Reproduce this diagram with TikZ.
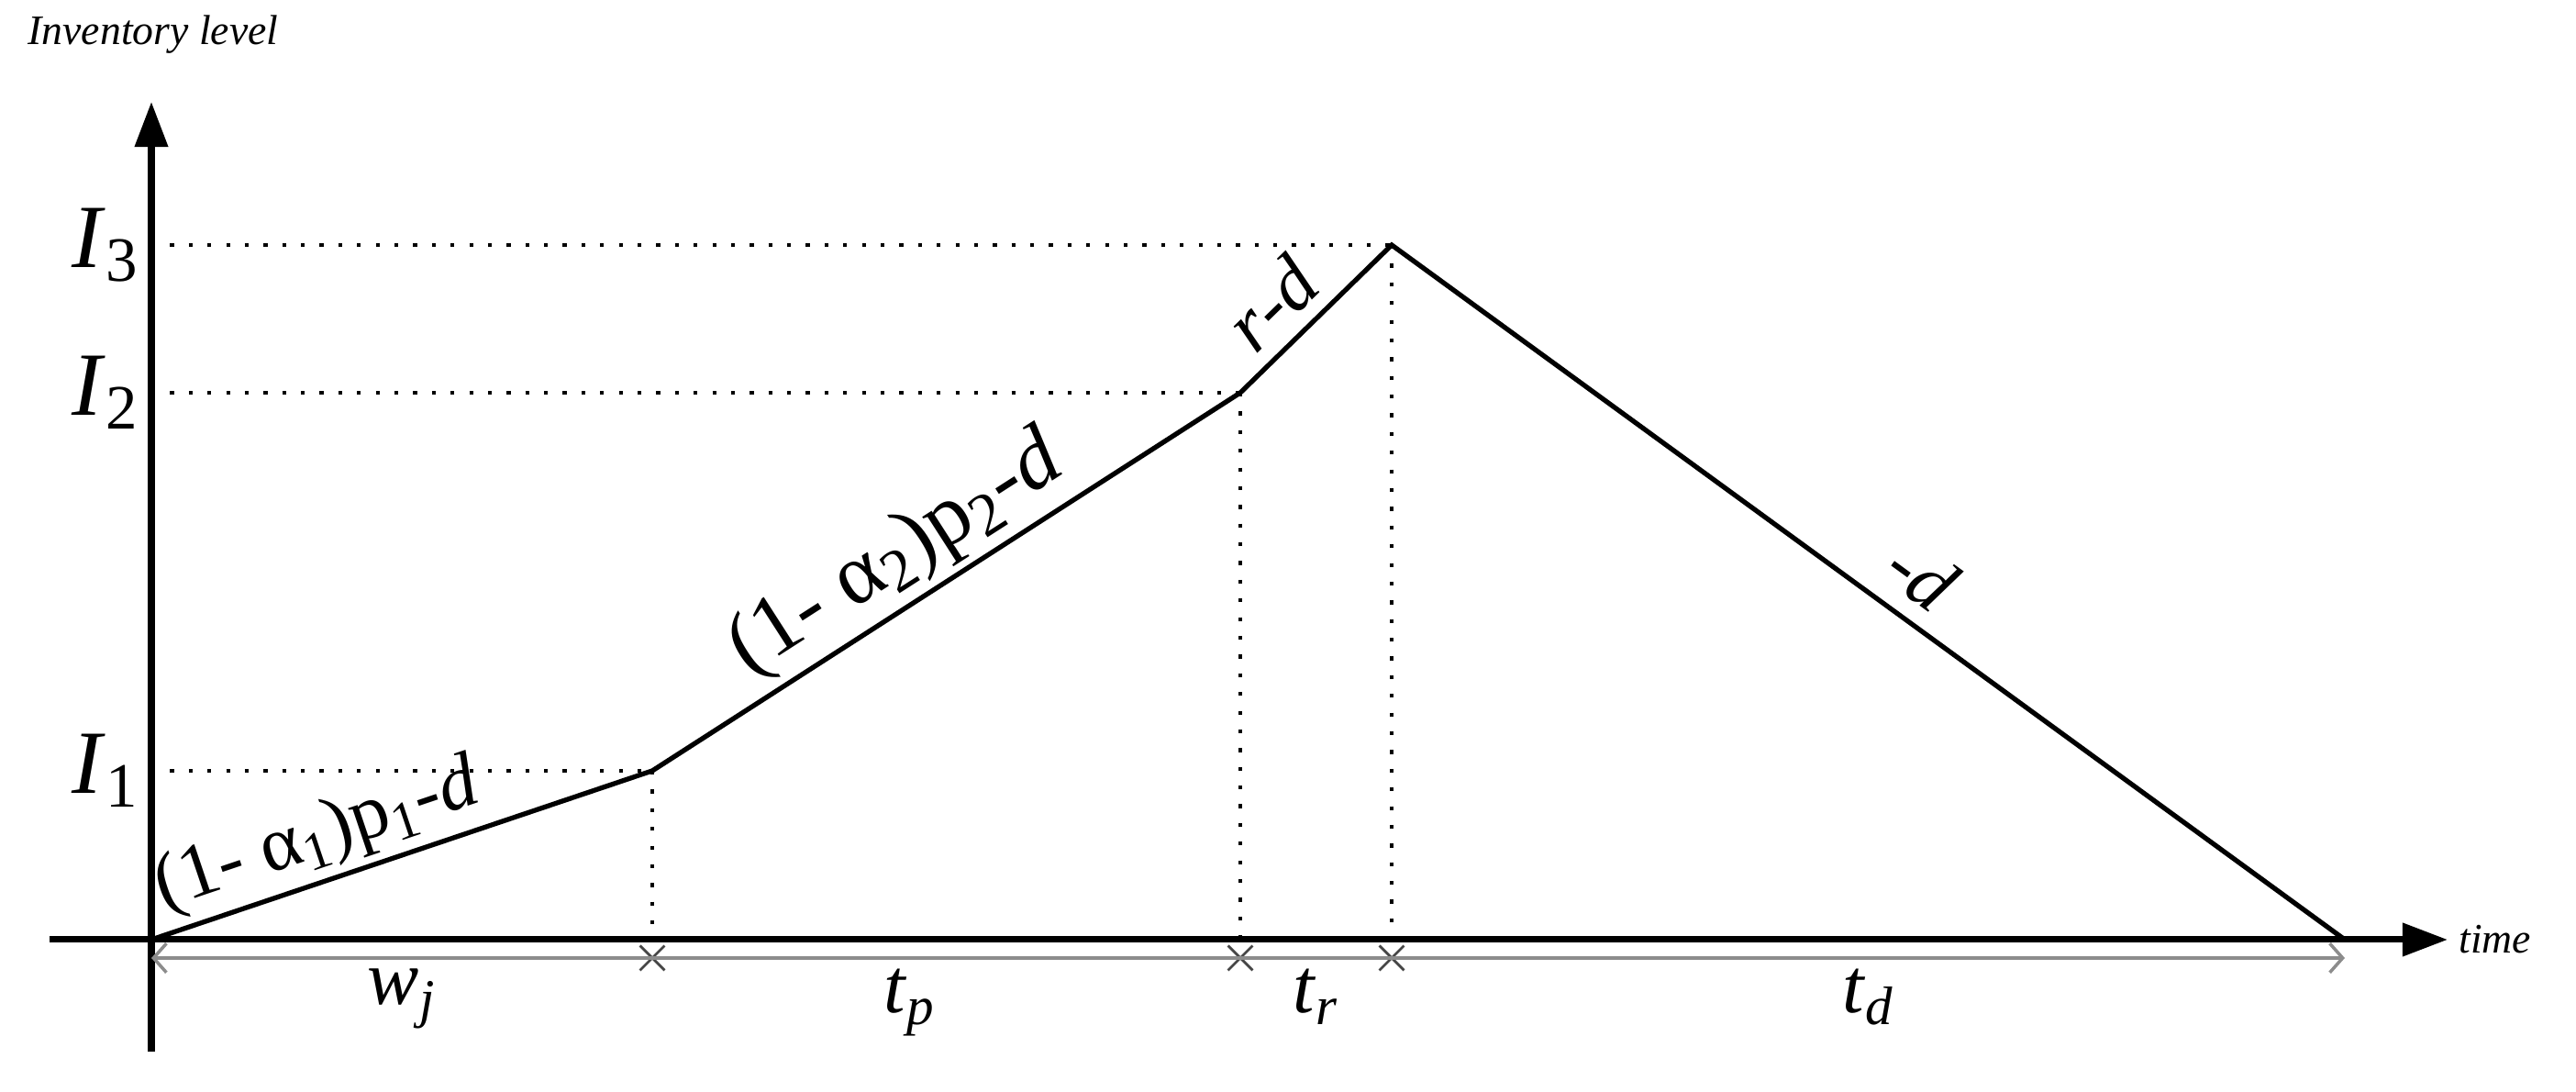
\documentclass[tikz,border=0pt]{standalone}
\usepackage{fontspec}
\setmainfont{Liberation Serif}
\usetikzlibrary{calc, arrows.meta, positioning, shapes.misc}
\definecolor{mygray}{RGB}{140,140,140}
\definecolor{mydark}{RGB}{70,70,70}
\tikzset{>=stealth, font=\fontsize{24}{28}\selectfont}

\begin{document}
\begin{tikzpicture}[
  axis/.style={
    line width=2pt,
    -{Triangle[length=14pt,width=10pt]}
  },
  curve/.style={line width=1.5pt, line join=miter},
  guide/.style={line width=1.2pt, dash pattern=on 1.2pt off 4.6pt},
  dimline/.style={
    mygray,
    line width=1pt,
    {Straight Barb[length=4pt,width=9pt]}-{Straight Barb[length=4pt,width=9pt]}
  },
  xmark/.style={
    cross out,
    draw=mydark,
    line width=0.8pt,
    minimum size=0.24cm,
    inner sep=0pt
  },
  slopelbl/.style={sloped, above, inner sep=2pt},
  ilbl/.style={anchor=east, inner sep=2pt, font=\fontsize{28}{32}\selectfont},
  span/.style={below, inner sep=3pt, text=black},
  small/.style={font=\fontsize{13}{15}\selectfont\itshape}
]
\useasboundingbox (0,0) rectangle (28.08,11.90);

%the corner points of the inventory curve
\coordinate (O) at (1.65,1.66);
\coordinate (A) at (7.11,3.50);
\coordinate (B) at (13.52,7.62);
\coordinate (C) at (15.17,9.23);
\coordinate (D) at (25.56,1.66);

%the axes
\coordinate (ybot) at (1.65,0.44);
\coordinate (ytop) at (1.65,10.79);
\coordinate (xleft) at (0.54,1.66);
\coordinate (xright) at (26.68,1.66);
\draw[axis] (ybot) -- (ytop);
\draw[axis] (xleft) -- (xright);
\node[small, right=0pt of xright] (time) {time};
\node[small, anchor=north] (ylab) at (1.67,11.86) {Inventory level};

%the level guides
\foreach \p/\i in {A/1, B/2, C/3} {
  \draw[guide] (O |- \p) -- (\p);
  \draw[guide] (\p) -- (\p |- O);
  \node[ilbl] (I\i) at ($(O |- \p)+(-0.06,0)$) {\textit{I}\textsubscript{\i}};
}

%the inventory curve
\draw[curve] (O)
  -- node[slopelbl, pos=0.36] (s1) {(1- α\textsubscript{1})p\textsubscript{1}-\textit{d}} (A)
  -- node[slopelbl, pos=0.46, font=\fontsize{27}{31}\selectfont] (s2) {(1- α\textsubscript{2})p\textsubscript{2}-\textit{d}} (B)
  -- node[slopelbl, pos=0.4, inner sep=4pt] (s3) {\textit{r}-\textit{d}} (C)
  -- node[slopelbl, pos=0.528, inner sep=5pt] (s4) {-\textit{d}} (D);

%the time spans
\coordinate (d0) at (1.65,1.46);
\coordinate (d4) at (25.56,1.46);
\node[xmark] (d1) at (A |- d0) {};
\node[xmark] (d2) at (B |- d0) {};
\node[xmark] (d3) at (C |- d0) {};
\draw[dimline] (d0)
  -- node[span] (wj) {\textit{w}\textsubscript{\textit{j}}} (d1.center)
  -- node[span, xshift=-0.4cm] (tp) {\textit{t}\textsubscript{\textit{p}}} (d2.center)
  -- node[span] (tr) {\textit{t}\textsubscript{\textit{r}}} (d3.center)
  -- node[span] (td) {\textit{t}\textsubscript{\textit{d}}} (d4);

\end{tikzpicture}
\end{document}
